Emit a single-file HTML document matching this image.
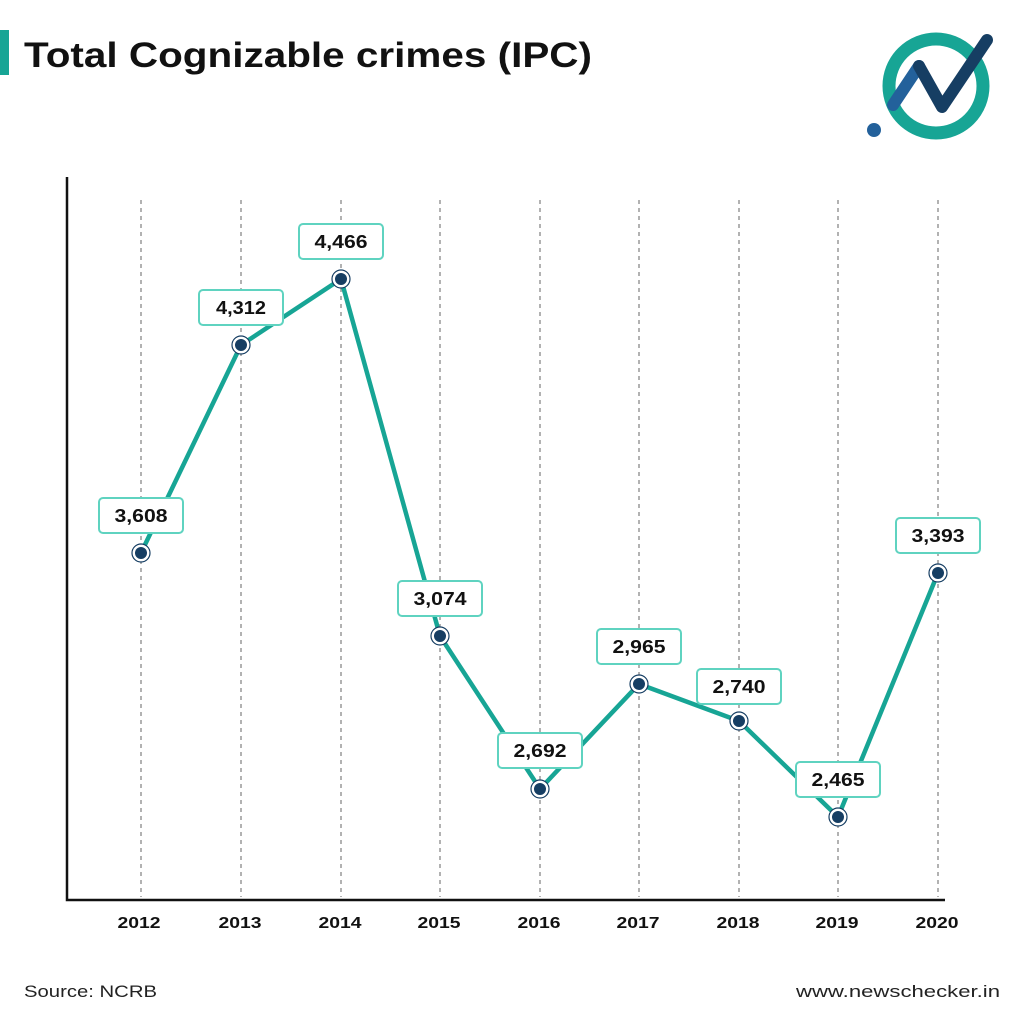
<!DOCTYPE html>
<html><head><style>
body{margin:0;background:#fff;}
svg{display:block;font-family:"Liberation Sans",sans-serif;}
text{}
</style></head><body>
<svg width="1024" height="1024" viewBox="0 0 1024 1024">
<rect x="0" y="30" width="9" height="45" fill="#17a595"/>
<text x="24" y="67" font-size="35" font-weight="bold" fill="#111" textLength="568" lengthAdjust="spacingAndGlyphs">Total Cognizable crimes (IPC)</text>
<circle cx="936" cy="86" r="47" fill="none" stroke="#17a595" stroke-width="13"/>
<line x1="893" y1="105" x2="919" y2="66" stroke="#23619b" stroke-width="12" stroke-linecap="round"/>
<polyline points="919,66 942,107 987,40" fill="none" stroke="#163e63" stroke-width="12" stroke-linecap="round" stroke-linejoin="round"/>
<circle cx="874" cy="130" r="7" fill="#23619b"/>
<g stroke="#999" stroke-width="1.5" stroke-dasharray="4,4">
<line x1="141" y1="200" x2="141" y2="897"/><line x1="241" y1="200" x2="241" y2="897"/><line x1="341" y1="200" x2="341" y2="897"/><line x1="440" y1="200" x2="440" y2="897"/><line x1="540" y1="200" x2="540" y2="897"/><line x1="639" y1="200" x2="639" y2="897"/><line x1="739" y1="200" x2="739" y2="897"/><line x1="838" y1="200" x2="838" y2="897"/><line x1="938" y1="200" x2="938" y2="897"/>
</g>
<polyline points="67,177 67,900 945,900" fill="none" stroke="#111" stroke-width="2.5"/>
<polyline points="141,553 241,345 341,279 440,636 540,789 639,684 739,721 838,817 938,573" fill="none" stroke="#17a595" stroke-width="4.5" stroke-linejoin="round"/>
<g font-size="16" font-weight="bold" fill="#111" text-anchor="middle" lengthAdjust="spacingAndGlyphs">
<text x="139" y="928" textLength="43" lengthAdjust="spacingAndGlyphs">2012</text><text x="240" y="928" textLength="43" lengthAdjust="spacingAndGlyphs">2013</text><text x="340" y="928" textLength="43" lengthAdjust="spacingAndGlyphs">2014</text><text x="439" y="928" textLength="43" lengthAdjust="spacingAndGlyphs">2015</text><text x="539" y="928" textLength="43" lengthAdjust="spacingAndGlyphs">2016</text><text x="638" y="928" textLength="43" lengthAdjust="spacingAndGlyphs">2017</text><text x="738" y="928" textLength="43" lengthAdjust="spacingAndGlyphs">2018</text><text x="837" y="928" textLength="43" lengthAdjust="spacingAndGlyphs">2019</text><text x="937" y="928" textLength="43" lengthAdjust="spacingAndGlyphs">2020</text>
</g>
<g font-size="18" font-weight="bold" fill="#111" text-anchor="middle">
<g><circle cx="141" cy="553" r="9" fill="#fff" stroke="#163e63" stroke-width="1.2"/><circle cx="141" cy="553" r="6" fill="#163e63"/><rect x="99" y="498" width="84" height="35" rx="4" fill="#fff" stroke="#5fd3c0" stroke-width="2"/><text x="141" y="522" textLength="53" lengthAdjust="spacingAndGlyphs">3,608</text></g>
<g><circle cx="241" cy="345" r="9" fill="#fff" stroke="#163e63" stroke-width="1.2"/><circle cx="241" cy="345" r="6" fill="#163e63"/><rect x="199" y="290" width="84" height="35" rx="4" fill="#fff" stroke="#5fd3c0" stroke-width="2"/><text x="241" y="314" textLength="50" lengthAdjust="spacingAndGlyphs">4,312</text></g>
<g><circle cx="341" cy="279" r="9" fill="#fff" stroke="#163e63" stroke-width="1.2"/><circle cx="341" cy="279" r="6" fill="#163e63"/><rect x="299" y="224" width="84" height="35" rx="4" fill="#fff" stroke="#5fd3c0" stroke-width="2"/><text x="341" y="248" textLength="53" lengthAdjust="spacingAndGlyphs">4,466</text></g>
<g><circle cx="440" cy="636" r="9" fill="#fff" stroke="#163e63" stroke-width="1.2"/><circle cx="440" cy="636" r="6" fill="#163e63"/><rect x="398" y="581" width="84" height="35" rx="4" fill="#fff" stroke="#5fd3c0" stroke-width="2"/><text x="440" y="605" textLength="53" lengthAdjust="spacingAndGlyphs">3,074</text></g>
<g><circle cx="540" cy="789" r="9" fill="#fff" stroke="#163e63" stroke-width="1.2"/><circle cx="540" cy="789" r="6" fill="#163e63"/><rect x="498" y="733" width="84" height="35" rx="4" fill="#fff" stroke="#5fd3c0" stroke-width="2"/><text x="540" y="757" textLength="53" lengthAdjust="spacingAndGlyphs">2,692</text></g>
<g><circle cx="639" cy="684" r="9" fill="#fff" stroke="#163e63" stroke-width="1.2"/><circle cx="639" cy="684" r="6" fill="#163e63"/><rect x="597" y="629" width="84" height="35" rx="4" fill="#fff" stroke="#5fd3c0" stroke-width="2"/><text x="639" y="653" textLength="53" lengthAdjust="spacingAndGlyphs">2,965</text></g>
<g><circle cx="739" cy="721" r="9" fill="#fff" stroke="#163e63" stroke-width="1.2"/><circle cx="739" cy="721" r="6" fill="#163e63"/><rect x="697" y="669" width="84" height="35" rx="4" fill="#fff" stroke="#5fd3c0" stroke-width="2"/><text x="739" y="693" textLength="53" lengthAdjust="spacingAndGlyphs">2,740</text></g>
<g><circle cx="838" cy="817" r="9" fill="#fff" stroke="#163e63" stroke-width="1.2"/><circle cx="838" cy="817" r="6" fill="#163e63"/><rect x="796" y="762" width="84" height="35" rx="4" fill="#fff" stroke="#5fd3c0" stroke-width="2"/><text x="838" y="786" textLength="53" lengthAdjust="spacingAndGlyphs">2,465</text></g>
<g><circle cx="938" cy="573" r="9" fill="#fff" stroke="#163e63" stroke-width="1.2"/><circle cx="938" cy="573" r="6" fill="#163e63"/><rect x="896" y="518" width="84" height="35" rx="4" fill="#fff" stroke="#5fd3c0" stroke-width="2"/><text x="938" y="542" textLength="53" lengthAdjust="spacingAndGlyphs">3,393</text></g>
</g>
<text x="24" y="997" font-size="17" fill="#222" textLength="133" lengthAdjust="spacingAndGlyphs">Source: NCRB</text>
<text x="796" y="997" font-size="17" fill="#222" textLength="204" lengthAdjust="spacingAndGlyphs">www.newschecker.in</text>
</svg>
</body></html>
